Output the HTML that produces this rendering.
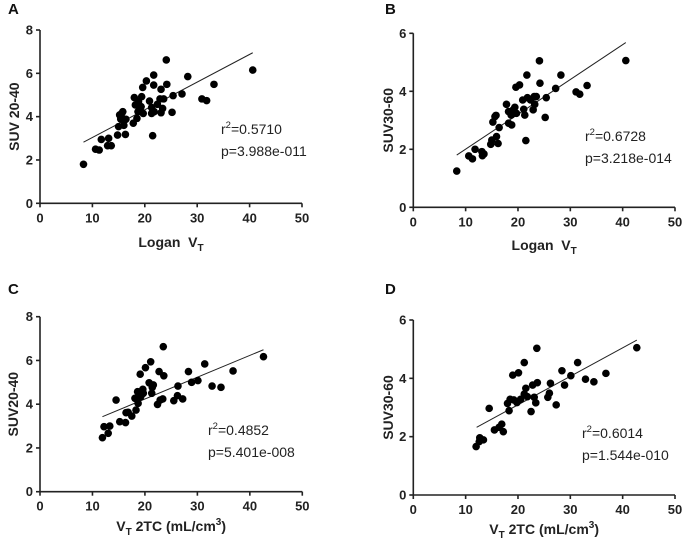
<!DOCTYPE html>
<html><head><meta charset="utf-8">
<style>
body{margin:0;background:#fff;}
svg{display:block;font-family:"Liberation Sans",Arial,sans-serif;}
.tk{font-size:13px;font-weight:bold;fill:#222;}
.ti{font-size:14px;font-weight:bold;fill:#222;}
.st{font-size:14px;fill:#222;}
.pl{font-size:15px;font-weight:bold;fill:#111;}
</style></head>
<body>
<svg id="chart" width="685" height="547" viewBox="0 0 685 547"></svg>
<script>
const xTicks=[0,10,20,30,40,50];
const yTicksA=[0,2,4,6,8];
const yTicksB=[0,2,4,6];
const xA=[8.3,10.6,11.3,11.7,13.1,12.9,13.6,14.8,15.0,15.2,15.6,15.8,15.4,16.0,16.3,16.4,17.8,18.0,18.2,18.5,18.7,18.8,19.1,19.4,19.3,19.6,19.7,20.3,20.9,21.3,21.3,21.5,21.7,21.7,21.8,22.4,22.9,23.1,23.1,23.4,23.6,24.1,24.2,25.2,25.4,27.1,28.2,30.9,31.8,33.2,40.6];
const yA=[1.8,2.5,2.46,2.95,3.0,2.66,2.66,3.15,3.54,4.08,4.15,4.23,3.89,3.6,3.18,3.88,3.7,4.88,4.54,3.92,4.23,4.69,4.31,4.92,4.46,5.35,4.15,5.65,4.72,4.42,4.15,3.12,5.92,5.46,4.23,4.57,4.82,5.26,4.18,4.38,4.82,6.62,5.49,4.2,4.97,5.05,5.85,4.82,4.74,5.49,6.15];
const xB=[8.3,10.6,11.3,11.8,13.1,13.2,13.5,14.8,15.0,15.2,15.6,15.8,15.9,16.2,16.4,17.8,18.2,18.2,18.7,18.8,19.1,19.4,19.6,19.7,20.3,20.9,21.1,21.3,21.5,21.7,21.8,22.4,22.9,23.1,23.2,23.5,24.1,24.2,25.2,25.4,27.2,28.2,31.1,31.8,33.2,40.6];
const yB=[1.25,1.77,1.67,2.0,1.92,1.78,1.84,2.17,2.32,2.94,3.13,3.17,2.44,2.2,2.75,3.55,3.3,2.9,3.18,2.84,3.36,3.45,4.14,3.24,4.22,3.7,3.38,3.18,2.3,4.56,3.78,3.7,3.36,3.82,3.55,3.82,5.05,4.28,3.1,3.78,4.1,4.56,3.98,3.9,4.2,5.06];
const xC=[11.9,12.2,13.0,13.3,14.5,15.2,16.3,16.4,16.8,17.5,18.1,18.3,18.6,18.7,19.1,19.2,19.4,19.6,19.7,20.1,20.8,21.1,21.3,21.4,21.6,22.4,22.7,22.9,23.4,23.5,23.6,25.5,26.2,26.3,27.2,28.3,28.9,30.1,31.4,32.8,34.5,36.8,42.6];
const yC=[2.47,2.97,2.67,3.0,4.19,3.2,3.16,3.61,3.63,3.46,4.27,3.73,4.57,4.04,5.37,4.34,4.57,4.68,4.5,5.67,4.98,5.94,4.5,4.77,4.88,3.99,5.49,4.19,4.24,6.63,5.3,4.16,4.39,4.83,4.24,5.49,5.0,5.08,5.84,4.83,4.77,5.52,6.17];
const xD=[12.0,12.7,13.4,12.6,14.5,15.5,16.4,16.9,17.2,18.0,18.3,18.5,19.0,19.2,19.8,20.1,20.5,21.2,21.2,21.5,21.8,22.5,22.8,23.1,23.4,23.6,23.7,25.7,26.0,26.2,27.3,28.4,28.9,30.1,31.4,32.9,34.5,36.8,42.7];
const yD=[1.66,1.96,1.89,1.83,2.97,2.23,2.32,2.43,2.17,3.14,2.89,3.28,4.11,3.26,3.17,4.19,3.28,4.54,3.46,3.66,3.37,2.86,3.77,3.35,3.16,5.03,3.85,3.35,3.49,3.83,3.09,4.26,3.77,4.09,4.54,3.97,3.88,4.17,5.05];
const fitXA=[8.3,40.6], fitYA=[2.82,6.95];
const fitXB=[8.3,40.6], fitYB=[1.8,5.68];
const fitXC=[11.9,42.6], fitYC=[3.43,6.49];
const fitXD=[12.1,42.7], fitYD=[2.32,5.31];

const NS='http://www.w3.org/2000/svg';
const svg=document.getElementById('chart');
function mk(parent,tag,attrs,text){const e=document.createElementNS(NS,tag);for(const k in attrs)e.setAttribute(k,attrs[k]);if(text!==undefined)e.textContent=text;parent.appendChild(e);return e;}

function panel(p){
  const g=mk(svg,'g',{});
  
  
  const sx=v=>p.x0+(v-0)/50*(p.x1-p.x0);
  const sy=v=>p.y0-(v/p.ymax)*(p.y0-p.y1);
  const lab=mk(g,'text',{x:p.lx,y:p.ly,class:'pl'},p.id);
  
  
  const ax=mk(g,'path',{d:`M${p.x0},${p.y1}V${p.y0}H${p.x1}`,stroke:'#222','stroke-width':1.6,fill:'none'});
  
  
  xTicks.forEach(t=>{
    mk(g,'line',{x1:sx(t),x2:sx(t),y1:p.y0,y2:p.y0+4,stroke:'#222','stroke-width':1.6});
    const tl=mk(g,'text',{x:sx(t),y:p.y0+19,class:'tk','text-anchor':'middle'},t);
    
    
  });
  p.yticks.forEach(t=>{
    mk(g,'line',{x1:p.x0-4,x2:p.x0,y1:sy(t),y2:sy(t),stroke:'#222','stroke-width':1.6});
    const tl=mk(g,'text',{x:p.x0-7,y:sy(t)+4.5,class:'tk','text-anchor':'end'},t);
    
    
  });
  const yt=mk(g,'text',{class:'ti','text-anchor':'middle',transform:`translate(${p.ytx},${(p.y0+p.y1)/2}) rotate(-90)`},p.ytitle);
  
  
  const xt=mk(g,'text',{class:'ti','text-anchor':'middle',x:(p.x0+p.x1)/2,y:p.xty});
  
  
  if(p.logan){
    mk(xt,'tspan',{},'Logan\u00a0\u00a0V');
    mk(xt,'tspan',{'font-size':'10px',dy:4},'T');
  }else{
    mk(xt,'tspan',{},'V');
    mk(xt,'tspan',{'font-size':'10px',dy:4},'T');
    mk(xt,'tspan',{dy:-4},' 2TC (mL/cm');
    mk(xt,'tspan',{'font-size':'10px',dy:-6},'3');
    mk(xt,'tspan',{dy:6},')');
  }
  const fl=mk(g,'line',{x1:sx(p.fx[0]),y1:sy(p.fy[0]),x2:sx(p.fx[1]),y2:sy(p.fy[1]),stroke:'#222','stroke-width':1});
  
  
  p.xs.forEach((v,i)=>{
    const c=mk(g,'circle',{cx:sx(v),cy:sy(p.ys[i]),r:3.8,fill:'#000'});
    
    
  });
  const s1=mk(g,'text',{x:p.sx,y:p.sy,class:'st'});
  
  
  mk(s1,'tspan',{},'r');
  mk(s1,'tspan',{'font-size':'9.5px',dy:-6},'2');
  mk(s1,'tspan',{dy:6},'='+p.r2);
  const s2=mk(g,'text',{x:p.sx,y:p.sy+22,class:'st'},'p='+p.pv);
  
  
}

panel({id:'A',lx:8,ly:14,x0:40,x1:302,y0:203.3,y1:30,ymax:8,yticks:yTicksA,ytx:19,ytitle:'SUV 20-40',xty:247,logan:true,xs:xA,ys:yA,fx:fitXA,fy:fitYA,sx:221,sy:134,r2:'0.5710',pv:'3.988e-011'});
panel({id:'B',lx:385,ly:14,x0:413.3,x1:675,y0:207.3,y1:33.3,ymax:6,yticks:yTicksB,ytx:393,ytitle:'SUV30-60',xty:250,logan:true,xs:xB,ys:yB,fx:fitXB,fy:fitYB,sx:585,sy:141,r2:'0.6728',pv:'3.218e-014'});
panel({id:'C',lx:8,ly:294,x0:40,x1:302.3,y0:491.7,y1:316.7,ymax:8,yticks:yTicksA,ytx:18,ytitle:'SUV20-40',xty:531,logan:false,xs:xC,ys:yC,fx:fitXC,fy:fitYC,sx:208,sy:435,r2:'0.4852',pv:'5.401e-008'});
panel({id:'D',lx:385,ly:294,x0:413.3,x1:675,y0:495,y1:320,ymax:6,yticks:yTicksB,ytx:393,ytitle:'SUV30-60',xty:534,logan:false,xs:xD,ys:yD,fx:fitXD,fy:fitYD,sx:582,sy:438,r2:'0.6014',pv:'1.544e-010'});
</script>
</body></html>
